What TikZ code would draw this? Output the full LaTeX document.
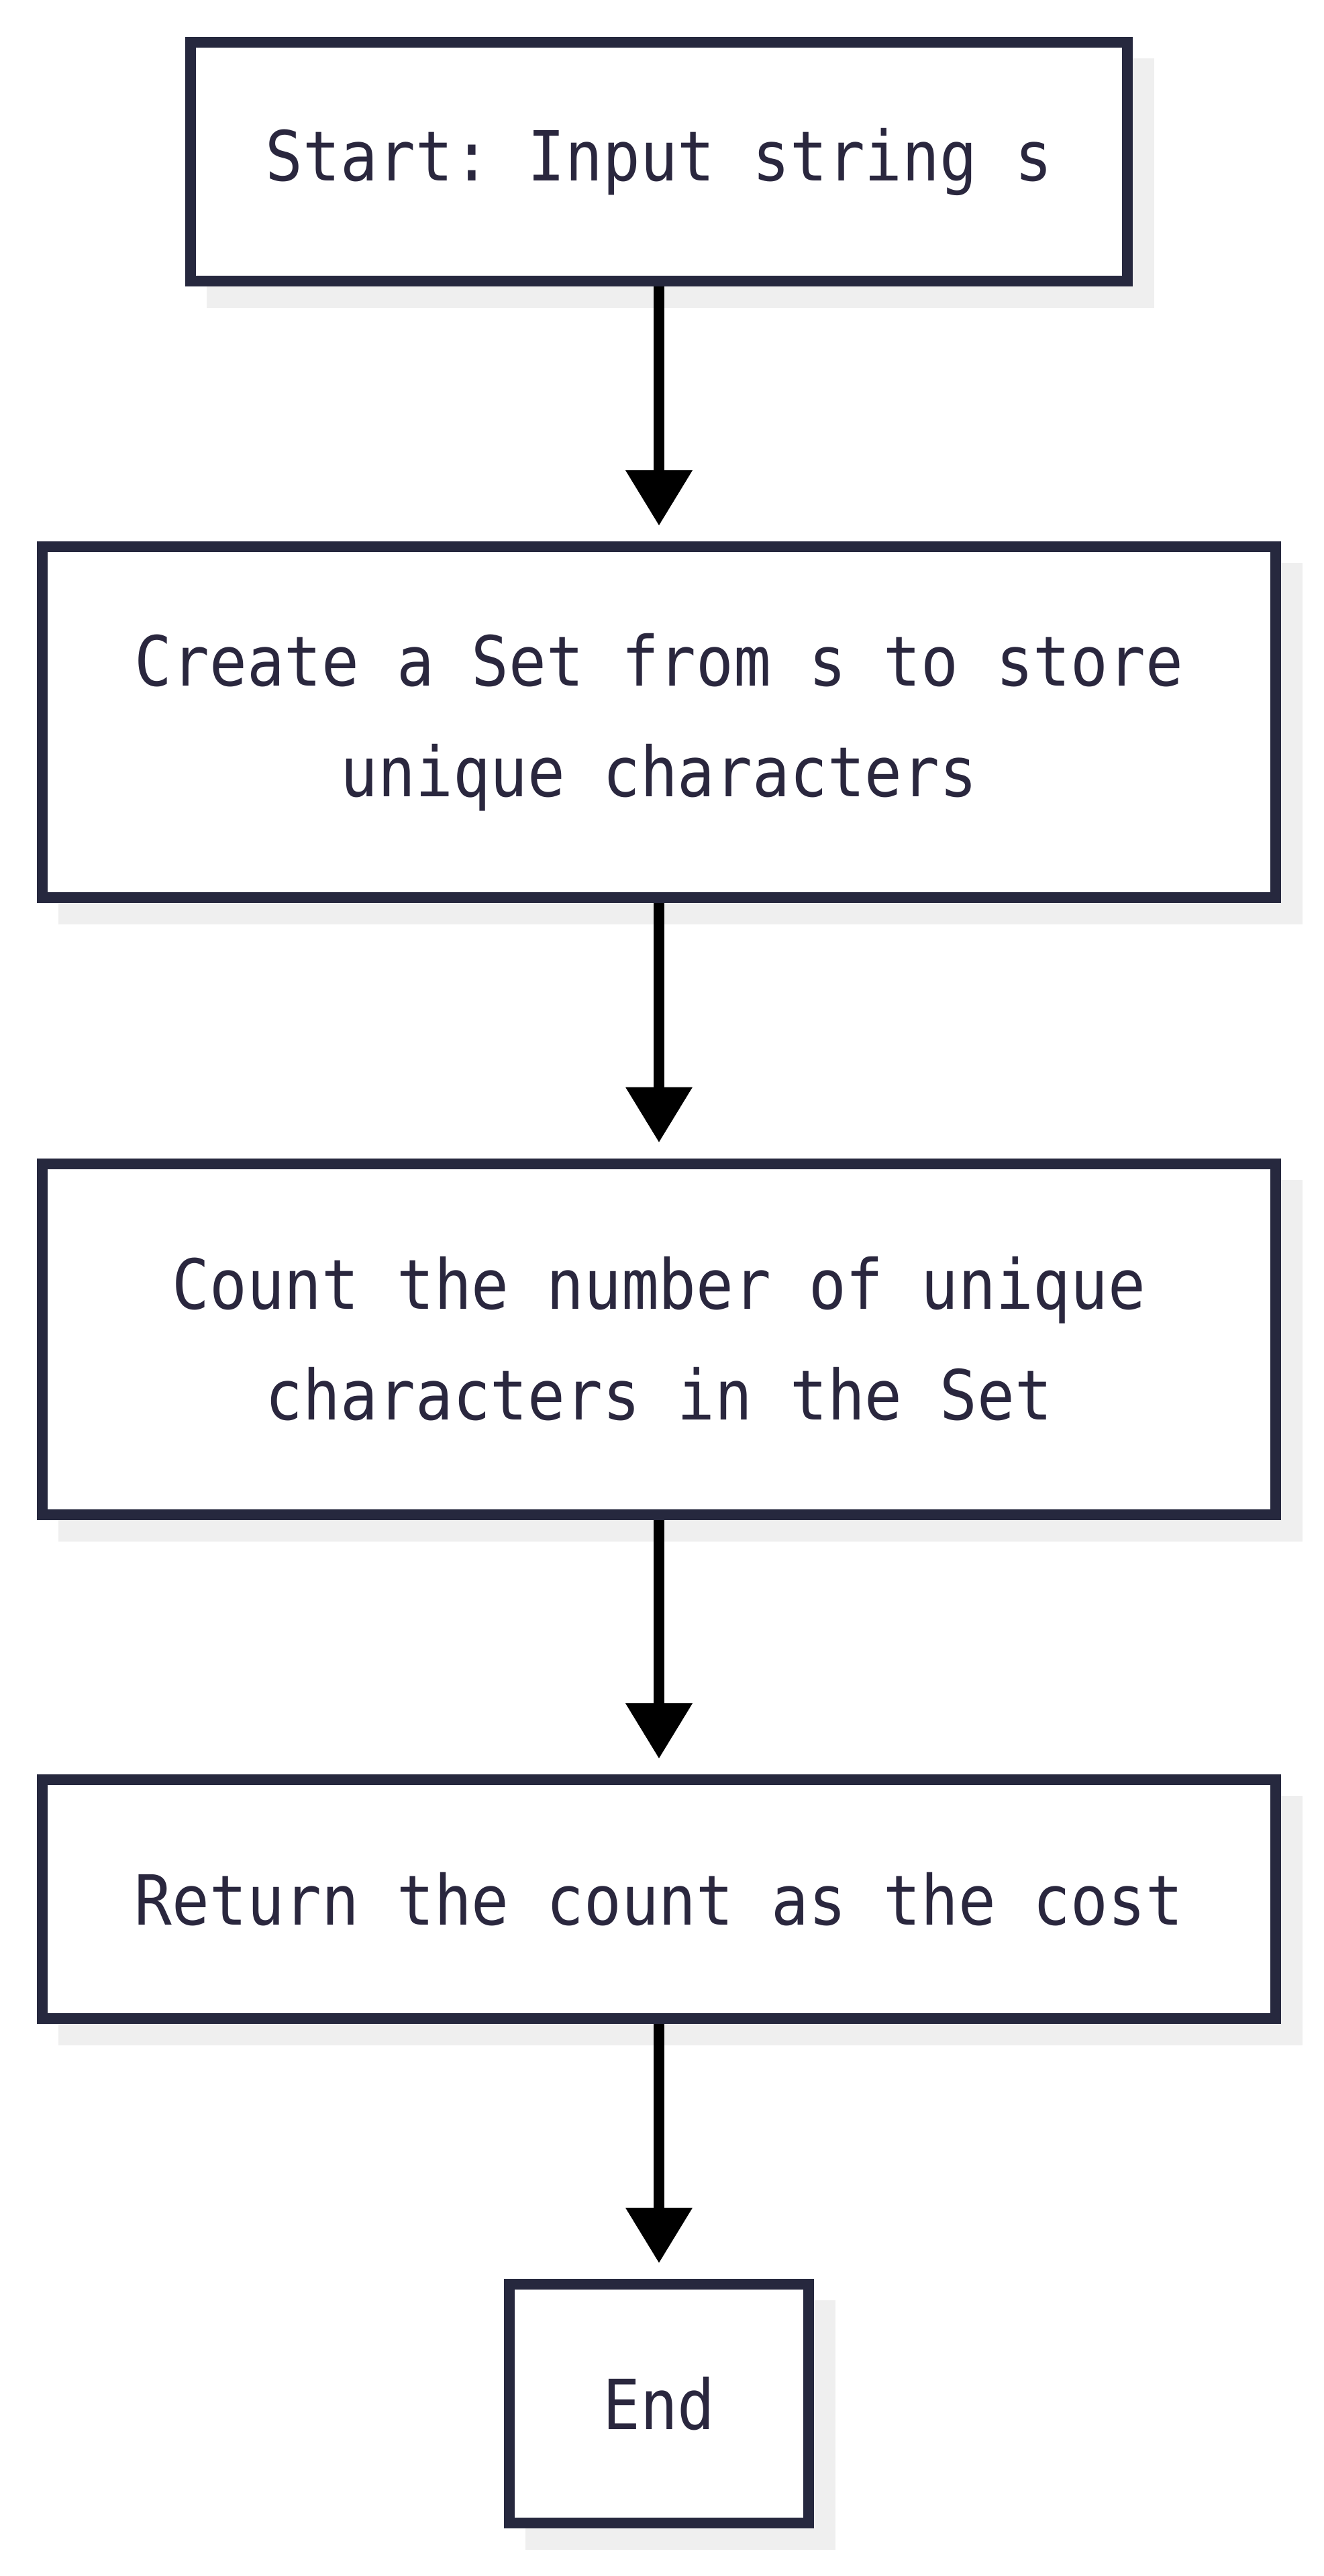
\documentclass[tikz,border=0pt]{standalone}
\usepackage{fontspec}
\usepackage{xcolor}
\usepackage{tikz}
\setmonofont[FakeStretch=0.9]{DejaVu Sans Mono}
\usetikzlibrary{arrows.meta, positioning, calc}
\definecolor{boxline}{RGB}{38, 40, 62}
\definecolor{boxtext}{RGB}{42, 39, 62}
\definecolor{shade}{RGB}{239, 239, 239}

\begin{document}
\begin{tikzpicture}[
    box/.style={rectangle, draw=boxline, line width=8pt, fill=white, text=boxtext,
        font=\ttfamily\fontsize{51.5}{82.5}\selectfont, align=center, inner sep=0pt,
        preaction={draw=shade, fill=shade, transform canvas={xshift=16pt, yshift=-16pt}}},
    edge/.style={line width=8pt, shorten >=12pt, -{Triangle[width=50pt, length=41pt, line width=0pt]}}
]
\useasboundingbox (0,0) rectangle (986pt,-1920pt);
\node[box, minimum width=698pt, minimum height=178pt] (start) at (491pt,-120.5pt) {Start: Input string s};
\node[box, minimum width=919pt, minimum height=261.5pt] (create) at (491pt,-538.25pt) {Create a Set from s to store\\unique characters};
\node[box, minimum width=919pt, minimum height=261.5pt] (count) at (491pt,-998pt) {Count the number of unique\\characters in the Set};
\node[box, minimum width=919pt, minimum height=178pt] (ret) at (491pt,-1415.5pt) {Return the count as the cost};
\node[box, minimum width=223pt, minimum height=178pt] (fin) at (491pt,-1791.5pt) {End};

\draw[edge] (start) -- (create);
\draw[edge] (create) -- (count);
\draw[edge] (count) -- (ret);
\draw[edge] (ret) -- (fin);
\end{tikzpicture}
\end{document}
